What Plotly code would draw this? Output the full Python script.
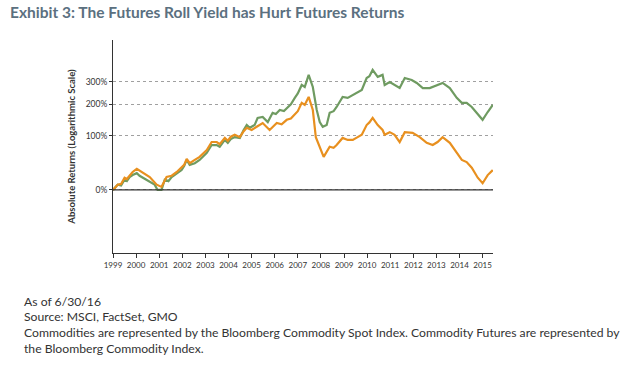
import plotly.graph_objects as go

# Commodities (Bloomberg Commodity Spot Index) - cumulative return, %
comm_years = [1999.0, 1999.1, 1999.2, 1999.35, 1999.5, 1999.6, 1999.72, 1999.85, 2000.03, 2000.15, 2000.29,
              2000.45, 2000.59, 2000.8, 2000.93,
              2001.1, 2001.24, 2001.4, 2001.54, 2001.76, 2001.97, 2002.08, 2002.19, 2002.32, 2002.54, 2002.75, 2003.06,
              2003.27, 2003.49, 2003.62, 2003.84, 2003.97, 2004.1, 2004.27, 2004.49, 2004.65, 2004.79, 2004.92, 2005.13,
              2005.26, 2005.48, 2005.7, 2005.91, 2006.05, 2006.22, 2006.4, 2006.56, 2006.7, 2006.87, 2007.0, 2007.17, 2007.3, 2007.47,
              2007.65, 2007.82, 2007.95, 2008.08, 2008.25, 2008.38, 2008.55, 2008.68, 2008.94, 2009.16, 2009.38,
              2009.59, 2009.77, 2009.98, 2010.1, 2010.24, 2010.46, 2010.67, 2010.76, 2010.98, 2011.19, 2011.41,
              2011.63, 2011.93, 2012.15, 2012.41, 2012.71, 2013.01, 2013.27, 2013.58, 2013.88, 2014.1,
              2014.31, 2014.53, 2014.75, 2015.0, 2015.22, 2015.44]
comm_ret = [0, 4, 7, 6, 14, 12, 18, 21, 24, 20, 17,
            14, 11, 7, 0,
            0, 14, 12, 18, 24, 29, 36, 47, 38, 41, 47, 61,
            78, 78, 74, 90, 83, 92, 97, 95, 115, 130, 122, 130,
            152, 155, 139, 169, 165, 179, 175, 190, 200, 226, 245, 285, 275, 338,
            275, 179, 139, 125, 130, 169, 175, 190, 230, 226, 239,
            252, 261, 321, 330, 367, 327, 338, 285, 300, 285, 270,
            321, 310, 295, 270, 270, 285, 295, 270, 226, 206,
            206, 190, 169, 146, 172, 198]

# Commodity Futures (Bloomberg Commodity Index) - cumulative return, %
fut_years = [1999.0, 1999.1, 1999.2, 1999.35, 1999.5, 1999.6, 1999.72, 1999.85, 2000.03, 2000.15, 2000.29,
             2000.45, 2000.59, 2000.89, 2001.1,
             2001.32, 2001.54, 2001.76, 2001.97, 2002.08, 2002.19, 2002.32, 2002.54, 2002.75, 2003.06, 2003.27,
             2003.49, 2003.62, 2003.84, 2003.97, 2004.1, 2004.27, 2004.49, 2004.65, 2004.79, 2005.0, 2005.22, 2005.48,
             2005.78, 2006.09, 2006.3, 2006.52, 2006.7, 2006.87, 2007.0, 2007.17, 2007.3, 2007.47, 2007.65, 2007.78, 2007.95,
             2008.12, 2008.38, 2008.55, 2008.68, 2008.94, 2009.16, 2009.38, 2009.59, 2009.77, 2009.98, 2010.1, 2010.24,
             2010.46, 2010.67, 2010.76, 2010.98, 2011.19, 2011.41, 2011.63, 2011.97, 2012.28, 2012.58,
             2012.84, 2013.05, 2013.27, 2013.58, 2013.88, 2014.1, 2014.31, 2014.53, 2014.79, 2015.0,
             2015.22, 2015.44]
fut_ret = [0, 4, 7, 8, 17, 15, 21, 26, 31, 28, 26,
           22, 18, 7, 4,
           18, 20, 26, 33, 38, 49, 41, 47, 53, 67, 85,
           85, 80, 95, 88, 98, 103, 97, 112, 122, 116, 125, 136,
           116, 136, 132, 146, 150, 162, 175, 206, 198, 230, 179, 97, 74,
           53, 74, 72, 78, 95, 90, 90, 97, 103, 130, 138, 152,
           130, 116, 103, 110, 103, 85, 110, 108, 97, 83,
           78, 85, 97, 83, 61, 47, 43, 33, 17, 9,
           21, 29]

x_ticks = list(range(1999, 2016))
x_labels = [str(y) for y in x_ticks]
y_ticks_pct = [0, 100, 200, 300]
y_labels = ["0%", "100%", "200%", "300%"]

GREEN = "#6f9b61"
ORANGE = "#e8901f"
FONT = "Lato, 'Open Sans', sans-serif"

fig = go.Figure()
fig.add_trace(go.Scatter(x=comm_years, y=[1 + r / 100 for r in comm_ret], mode="lines",
                         line=dict(color=GREEN, width=2.2), name="Commodities", showlegend=False))
fig.add_trace(go.Scatter(x=fut_years, y=[1 + r / 100 for r in fut_ret], mode="lines",
                         line=dict(color=ORANGE, width=2.2), name="Commodity Futures", showlegend=False))

# 0% baseline
fig.add_shape(type="line", xref="x domain", x0=0, x1=1, yref="y", y0=1, y1=1,
              line=dict(color="#333333", width=1.2))

fig.update_layout(
    width=640, height=366,
    margin=dict(l=113, r=147, t=40, b=113),
    paper_bgcolor="white", plot_bgcolor="white",
    font=dict(family=FONT, color="#333333"),
    showlegend=False,
    xaxis=dict(range=[1999, 2015.45], tickvals=x_ticks, ticktext=x_labels,
               showgrid=False, showline=True, linecolor="#333333", linewidth=1,
               ticks="outside", ticklen=4, tickcolor="#333333",
               tickfont=dict(size=8, color="#333333"), zeroline=False),
    yaxis=dict(type="log", range=[-0.3516, 0.836],
               tickvals=[1 + v / 100 for v in y_ticks_pct], ticktext=y_labels,
               showgrid=True, gridcolor="#a0a0a0", griddash="3px,3px", gridwidth=1,
               showline=True, linecolor="#333333", linewidth=1,
               ticks="outside", ticklen=3, tickcolor="#333333",
               tickfont=dict(size=8.5, color="#333333"), zeroline=False,
               title=dict(text="<b>Absolute Returns (Logarithmic Scale)</b>",
                          font=dict(size=9.5, color="#333333"), standoff=8)),
)

fig.add_annotation(text="<b>Exhibit 3: The Futures Roll Yield has Hurt Futures Returns</b>",
                   xref="paper", yref="paper", x=-113 / 380 + 8 / 380, y=1 + 28 / 213,
                   xanchor="left", yanchor="middle", showarrow=False,
                   font=dict(size=15.5, color="#5b7080", family=FONT))

fig.add_annotation(text="<b>Commodities</b>", xref="paper", yref="y",
                   x=1.013, y=1 + comm_ret[-1] / 100, xanchor="left", yanchor="middle",
                   showarrow=False, font=dict(size=11.4, color=GREEN, family=FONT))
fig.add_annotation(text="<b>Commodity Futures</b>", xref="paper", yref="y",
                   x=1.013, y=1 + fut_ret[-1] / 100, xanchor="left", yanchor="middle",
                   showarrow=False, font=dict(size=11.4, color=ORANGE, family=FONT))

footer = ["As of 6/30/16",
          "Source: MSCI, FactSet, GMO",
          "Commodities are represented by the Bloomberg Commodity Spot Index. Commodity Futures are represented by",
          "the Bloomberg Commodity Index."]
for i, line in enumerate(footer):
    fig.add_annotation(text=line, xref="paper", yref="paper",
                       x=(22 - 113) / 380, y=-(301 + i * 15.7 - 253) / 213,
                       xanchor="left", yanchor="middle", showarrow=False,
                       font=dict(size=12.2, color="#333333", family=FONT))

fig.write_html("out.html", config={"displayModeBar": False},
               post_script="document.body.style.margin='0';")
